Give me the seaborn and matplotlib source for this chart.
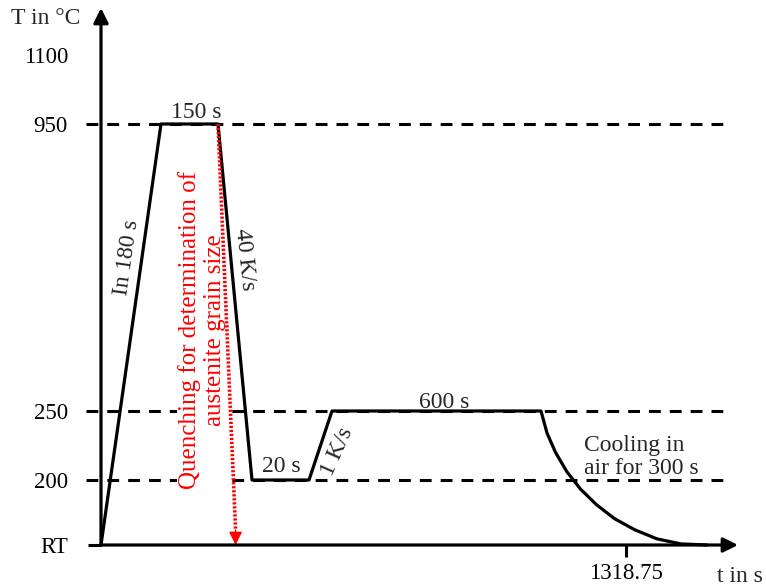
import numpy as np
import pandas as pd
import matplotlib
matplotlib.use("Agg")
import matplotlib.pyplot as plt
import seaborn as sns

# ---------------- data ----------------
RT = 20  # room temperature (°C)
profile_time = [0, 180, 330, 348.75, 368.75, 418.75, 1018.75]
profile_temp = [RT, 950, 950, 200, 200, 250, 250]
cooling_time = [1018.75, 1040, 1070, 1110, 1158, 1214, 1278, 1350, 1428, 1513, 1605]
cooling_temp = [250, 234, 220, 206, 175, 132, 93, 62, 37, 23, RT]
level_temps = [950, 250, 200]
ytick_values = [RT, 200, 250, 950, 1100]
ytick_labels = ["RT", "200", "250", "950", "1100"]
xtick_values = [1318.75]
xtick_labels = ["1318.75"]
quench_start = (330, 950)
quench_end_time = 339.7

# ---------------- schematic (non-linear) scales ----------------
t_knots = [-303, 0, 180, 330, 348.75, 368.75, 418.75, 1018.75, 1318.75, 1813]
x_knots = [0, 101, 161, 218, 252, 309, 332, 541, 626, 766]
T_knots = [-93.5, 20, 200, 250, 950, 1100, 1219.6]
y_knots = [0, 41, 106, 175, 462, 531, 586]


def fx(t):
    return np.interp(t, t_knots, x_knots)


def ifx(x):
    return np.interp(x, x_knots, t_knots)


def fy(T):
    return np.interp(T, T_knots, y_knots)


def ify(y):
    return np.interp(y, y_knots, T_knots)


sns.set_theme(style="white")
plt.rcParams["font.family"] = ["Liberation Serif", "DejaVu Serif"]
plt.rcParams["lines.scale_dashes"] = False

W, H = 766, 586
fig = plt.figure(figsize=(W / 100, H / 100), dpi=100)
ax = fig.add_axes([0, 0, 1, 1])
ax.set_facecolor("white")
ax.set_xscale("function", functions=(fx, ifx))
ax.set_yscale("function", functions=(fy, ify))


def P(px, py):
    return px / W, 1 - py / H


# temperature profile
df = pd.DataFrame({"t": profile_time + cooling_time[1:],
                   "T": profile_temp + cooling_temp[1:]})
sns.lineplot(data=df, x="t", y="T", sort=False, estimator=None, color="black",
             lw=2.3, ax=ax, zorder=4, solid_joinstyle="round")

# dashed reference levels
for T in level_temps:
    ax.axhline(T, xmin=86 / W, xmax=723 / W, color="black", lw=2.2,
               linestyle=(0, (8.5, 6.5)), zorder=1)

# red dotted quench line with arrow
T_arrow_base = ify(H - 530)
ax.plot([quench_start[0], quench_end_time], [quench_start[1], T_arrow_base],
        color="red", lw=2.6, linestyle=(0, (1.6, 1.3)), zorder=5)
ax.annotate("", xy=(quench_end_time, RT), xytext=(quench_end_time, T_arrow_base),
            arrowprops=dict(arrowstyle="-|>", color="red", lw=1, mutation_scale=20,
                            shrinkA=0, shrinkB=0), zorder=5)

# axes arrows
ax.annotate("", xy=(0, ify(H - 8)), xytext=(0, RT),
            arrowprops=dict(arrowstyle="-|>", color="black", lw=2.3,
                            mutation_scale=22, shrinkA=0, shrinkB=0), zorder=6)
ax.annotate("", xy=(ifx(738), RT), xytext=(0, RT),
            arrowprops=dict(arrowstyle="-|>", color="black", lw=2.3,
                            mutation_scale=22, shrinkA=0, shrinkB=0), zorder=6)

# ticks
for s in ax.spines.values():
    s.set_visible(False)
ax.spines["left"].set_position(("data", 0))
ax.spines["bottom"].set_position(("data", RT))
ax.set_yticks(ytick_values, ytick_labels)
ax.set_xticks(xtick_values, xtick_labels)
ax.yaxis.set_minor_locator(matplotlib.ticker.NullLocator())
ax.xaxis.set_minor_locator(matplotlib.ticker.NullLocator())
ax.tick_params(axis="y", which="major", direction="out", length=9.4, width=2.2,
               pad=14.4, labelsize=16.5, color="black", labelcolor="black", left=True)
ax.tick_params(axis="x", which="major", direction="out", length=8.6, width=2.2,
               pad=4.5, labelsize=16.5, color="black", labelcolor="black", bottom=True)
for val, tick in zip(ytick_values, ax.yaxis.get_major_ticks()):
    if val != RT:
        tick.tick1line.set_markersize(0)
ax.set_xlim(t_knots[0], t_knots[-1])
ax.set_ylim(T_knots[0], T_knots[-1])
ax.set_xlabel("")
ax.set_ylabel("")

# annotations
fs = 17
ax.text(*P(46, 18), "T in °C", transform=ax.transAxes, ha="center", va="center", fontsize=fs)
ax.text(*P(740, 576), "t in s", transform=ax.transAxes, ha="center", va="center", fontsize=fs)
ax.text(*P(127, 258), "In 180 s", transform=ax.transAxes, ha="center", va="center",
        fontsize=fs, rotation=82)
ax.text(*P(196, 113), "150 s", transform=ax.transAxes, ha="center", va="center", fontsize=fs)
ax.text(*P(245, 259), "40 K/s", transform=ax.transAxes, ha="center", va="center",
        fontsize=fs, rotation=-84)
ax.text(*P(281, 467), "20 s", transform=ax.transAxes, ha="center", va="center", fontsize=fs)
ax.text(*P(337, 452), "1 K/s", transform=ax.transAxes, ha="center", va="center",
        fontsize=fs, rotation=66)
ax.text(*P(444, 402), "600 s", transform=ax.transAxes, ha="center", va="center", fontsize=fs)
ax.text(*P(584, 457), "Cooling in\nair for 300 s", transform=ax.transAxes, ha="left",
        va="center", fontsize=fs, linespacing=1.15)
ax.text(*P(202, 330), "Quenching for determination of\naustenite grain size",
        transform=ax.transAxes, ha="center", va="center", fontsize=18, rotation=90,
        color="red", linespacing=1.15, zorder=3,
        bbox=dict(facecolor="white", edgecolor="none", pad=1))

fig.savefig("out.png", dpi=100)
